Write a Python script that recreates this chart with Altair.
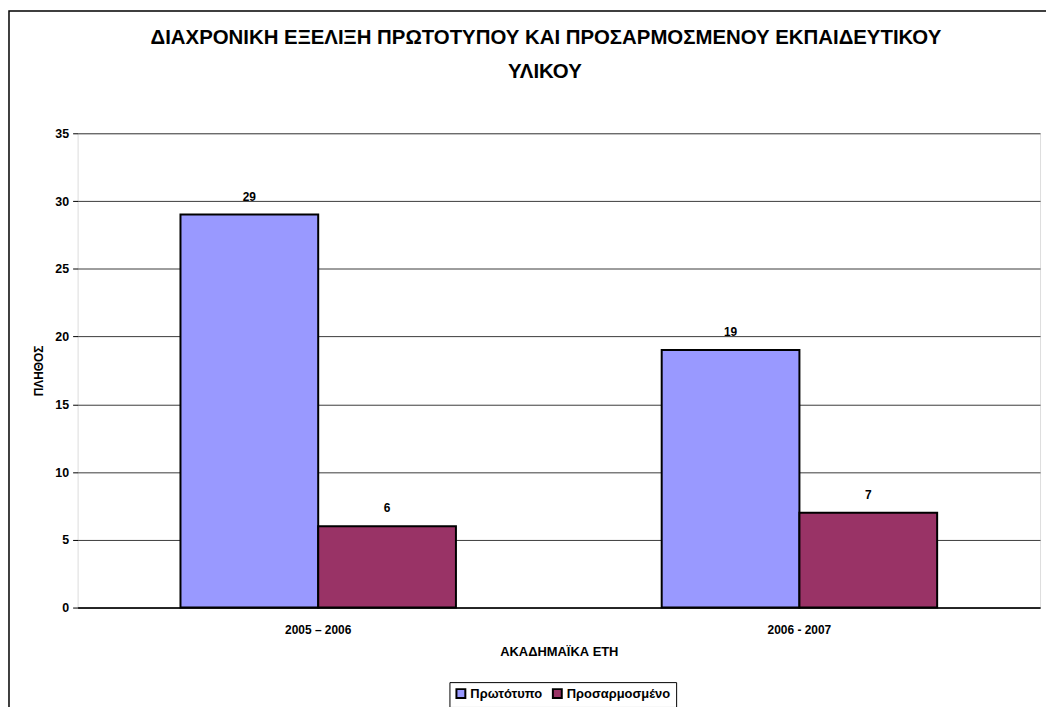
import altair as alt
import pandas as pd

years = ["2005 – 2006", "2006 - 2007"]
series = ["Πρωτότυπο", "Προσαρμοσμένο"]
original = [29, 19]
adapted = [6, 7]
colors = ["#9999FF", "#993366"]
title_lines = ["ΔΙΑΧΡΟΝΙΚΗ ΕΞΕΛΙΞΗ ΠΡΩΤΟΤΥΠΟΥ ΚΑΙ ΠΡΟΣΑΡΜΟΣΜΕΝΟΥ ΕΚΠΑΙΔΕΥΤΙΚΟΥ", "ΥΛΙΚΟΥ"]

rows = []
for i, y in enumerate(years):
    rows.append({"year": y, "series": series[0], "value": original[i]})
    rows.append({"year": y, "series": series[1], "value": adapted[i]})
df = pd.DataFrame(rows)

FONT = "Liberation Sans"

base = alt.Chart(df)

x_enc = alt.X(
    "year:N", sort=years,
    scale=alt.Scale(paddingInner=0, paddingOuter=0),
    axis=alt.Axis(title="ΑΚΑΔΗΜΑΪΚΑ ΕΤΗ", labelAngle=0, ticks=False,
                  domainColor="black", domainWidth=1.5,
                  labelFont=FONT, labelFontSize=12, labelFontWeight="bold",
                  labelColor="black", labelPadding=17,
                  titleFont=FONT, titleFontSize=13, titleFontWeight="bold",
                  titleColor="black", titlePadding=10),
)
xo_enc = alt.XOffset("series:N", sort=series,
                     scale=alt.Scale(paddingInner=0, paddingOuter=0.747))
y_enc = alt.Y(
    "value:Q",
    scale=alt.Scale(domain=[0, 35], nice=False),
    axis=alt.Axis(title="ΠΛΗΘΟΣ", values=[0, 5, 10, 15, 20, 25, 30, 35],
                  grid=True, gridColor="#3a3a3a", gridWidth=1,
                  domain=False, tickColor="black", tickSize=5,
                  labelFont=FONT, labelFontSize=12.5, labelFontWeight="bold",
                  labelColor="black", labelPadding=4,
                  titleFont=FONT, titleFontSize=12, titleFontWeight="bold",
                  titleColor="black", titlePadding=9),
)

bars = base.mark_bar(stroke="black", strokeWidth=2).encode(
    x=x_enc, xOffset=xo_enc, y=y_enc,
    color=alt.Color(
        "series:N", sort=series,
        scale=alt.Scale(domain=series, range=colors),
        legend=alt.Legend(
            title=None, orient="none", legendX=374, legendY=552,
            direction="horizontal", strokeColor="black", fillColor="white",
            padding=5, symbolType="square", symbolSize=80,
            symbolStrokeColor="black", symbolStrokeWidth=2,
            labelFont=FONT, labelFontSize=13, labelFontWeight="bold",
            labelColor="black", labelOffset=3, columnPadding=6,
        ),
    ),
)

labels = base.mark_text(
    baseline="bottom", dy=-11, font=FONT, fontSize=12, fontWeight="bold",
    color="black",
).encode(x=alt.X("year:N", sort=years), xOffset=alt.XOffset("series:N", sort=series),
         y="value:Q", text="value:Q")

one = pd.DataFrame({"a": [0]})

frame = alt.Chart(one).mark_rect(
    fillOpacity=0, stroke="black", strokeWidth=1.5
).encode(x=alt.value(-69), x2=alt.value(980), y=alt.value(-123), y2=alt.value(700))

title1 = alt.Chart(one).mark_text(
    text=title_lines[0], font=FONT, fontSize=20.5, fontWeight="bold", color="black",
    align="center", baseline="middle",
).encode(x=alt.value(471), y=alt.value(-96))
title2 = alt.Chart(one).mark_text(
    text=title_lines[1], font=FONT, fontSize=20.5, fontWeight="bold", color="black",
    align="center", baseline="middle",
).encode(x=alt.value(470), y=alt.value(-62))

chart = alt.layer(bars, labels, frame, title1, title2).properties(
    width=968, height=477,
    autosize=alt.AutoSizeParams(type="none"),
    padding={"left": 70, "top": 124, "right": 6, "bottom": 98},
).configure_view(
    fill="#C0C0C0", stroke="#808080", strokeWidth=2,
).configure(background="white")

chart.save("out.html", embed_options={"renderer": "svg", "actions": False})
